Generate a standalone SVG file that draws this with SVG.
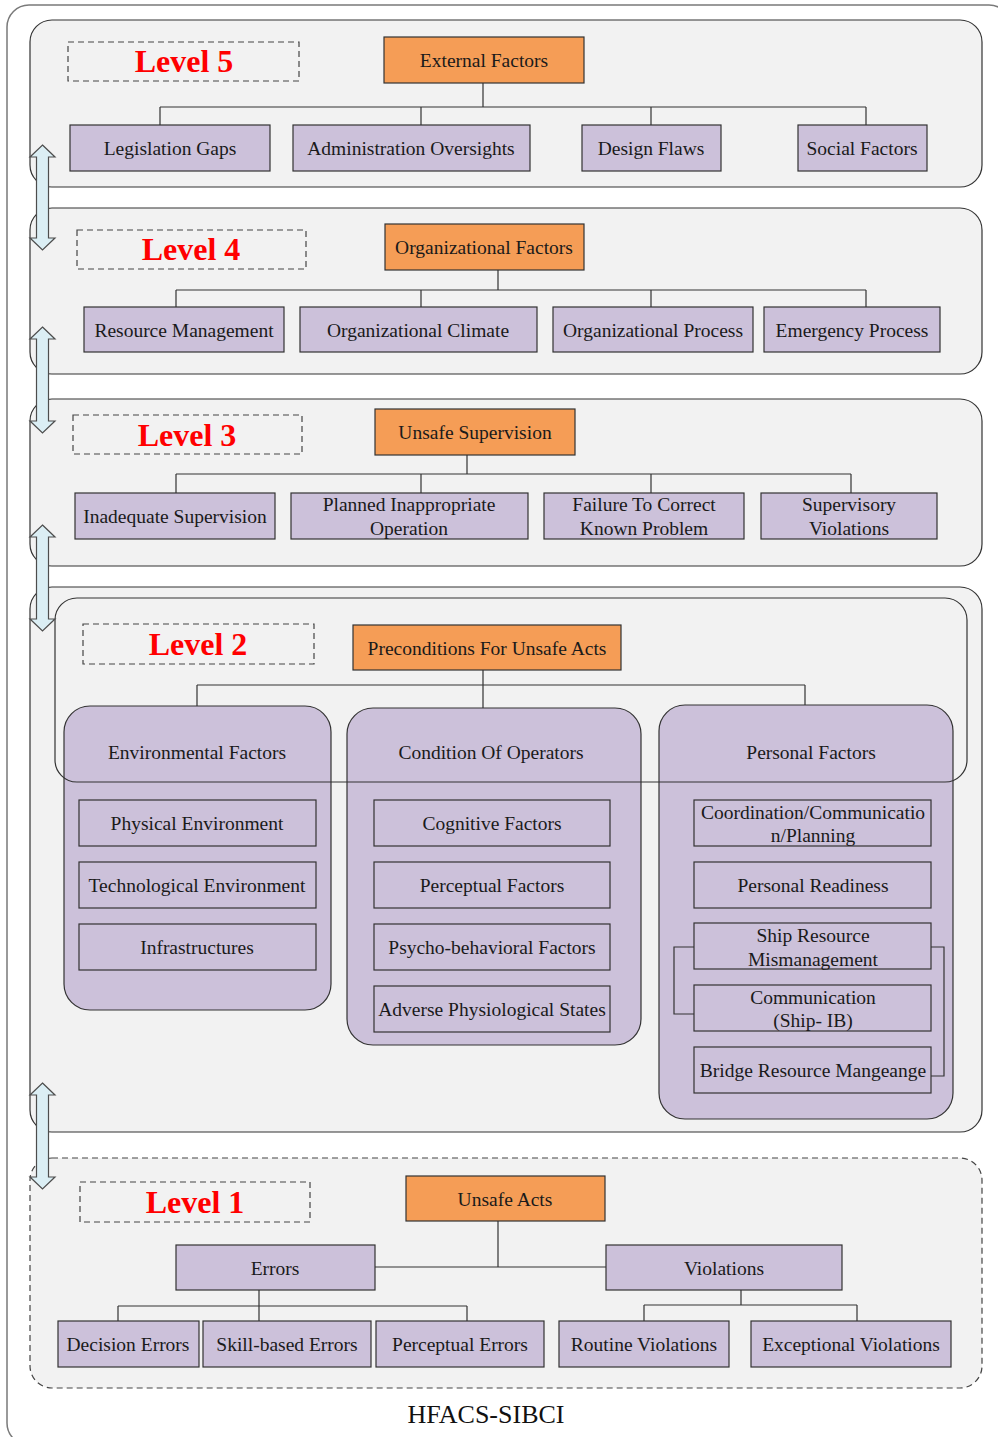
<svg xmlns="http://www.w3.org/2000/svg" width="998" height="1437" viewBox="0 0 998 1437">
  <style>
    .frame { fill: #ffffff; stroke: #7a7a7a; stroke-width: 1.5; }
    .panel { fill: #f2f2f2; stroke: #333333; stroke-width: 1.2; }
    .panel-dash { fill: #f2f2f2; stroke: #444444; stroke-width: 1.2; stroke-dasharray: 6 4; }
    .outline { fill: none; stroke: #333333; stroke-width: 1.2; }
    .lvlbox { fill: none; stroke: #444444; stroke-width: 1.2; stroke-dasharray: 6 4; }
    .lvl { font-family: "Liberation Serif", "Times New Roman", serif; font-weight: bold; font-size: 32px; fill: #ff0000; text-anchor: middle; }
    .top { fill: #f59d56; stroke: #333333; stroke-width: 1.2; }
    .sub { fill: #ccc1da; stroke: #333333; stroke-width: 1.2; }
    .grp { fill: #ccc1da; stroke: #333333; stroke-width: 1.2; }
    .t { font-family: "Liberation Serif", "Times New Roman", serif; font-size: 19.5px; fill: #1a1a1a; text-anchor: middle; }
    .cap { font-family: "Liberation Serif", "Times New Roman", serif; font-size: 26px; fill: #111111; text-anchor: middle; }
    .conn { fill: none; stroke: #333333; stroke-width: 1.2; }
    .arrow { fill: #dbeef4; stroke: #4d4d4d; stroke-width: 1.2; }
  </style>

  <!-- outer frame -->
  <rect class="frame" x="7" y="5" width="1004" height="1440" rx="22"/>

  <!-- level panels -->
  <g id="panel-level5"><rect class="panel" x="30" y="20" width="952" height="167" rx="22"/></g>
  <g id="panel-level4"><rect class="panel" x="30" y="208" width="952" height="166" rx="22"/></g>
  <g id="panel-level3"><rect class="panel" x="30" y="399" width="952" height="167" rx="22"/></g>
  <g id="panel-level2"><rect class="panel" x="30" y="587" width="952" height="545" rx="22"/></g>
  <g id="panel-level1"><rect class="panel-dash" x="30" y="1158" width="952" height="230" rx="22"/></g>

  <!-- level labels -->
  <g id="label-level5"><rect class="lvlbox" x="68" y="42" width="231" height="39"/><text class="lvl" x="184" y="72">Level 5</text></g>
  <g id="label-level4"><rect class="lvlbox" x="77" y="230" width="229" height="39"/><text class="lvl" x="191" y="260">Level 4</text></g>
  <g id="label-level3"><rect class="lvlbox" x="73" y="415" width="229" height="39"/><text class="lvl" x="187" y="446">Level 3</text></g>
  <g id="label-level2"><rect class="lvlbox" x="83" y="624" width="231" height="40"/><text class="lvl" x="198" y="655">Level 2</text></g>
  <g id="label-level1"><rect class="lvlbox" x="80" y="1182" width="230" height="40"/><text class="lvl" x="195" y="1213">Level 1</text></g>

  <!-- connectors -->
  <g id="connectors">
    <!-- level 5 -->
    <path class="conn" d="M483,83 V107 M160,107 H866 M160,107 V125 M421,107 V125 M651,107 V125 M866,107 V125"/>
    <!-- level 4 -->
    <path class="conn" d="M498,270 V290 M176,290 H866 M176,290 V307 M421,290 V307 M651,290 V307 M866,290 V307"/>
    <!-- level 3 -->
    <path class="conn" d="M467,455 V474 M176,474 H851 M176,474 V493 M421,474 V493 M651,474 V493 M851,474 V493"/>
    <!-- level 2 -->
    <path class="conn" d="M483,670 V708 M197,685 H805 M197,685 V706 M805,685 V705"/>
    <!-- level 1 -->
    <path class="conn" d="M498,1221 V1267 M375,1267 H606"/>
    <path class="conn" d="M259,1290 V1321 M118,1306 H467 M118,1306 V1321 M467,1306 V1321"/>
    <path class="conn" d="M741,1290 V1305 M644,1305 H857 M644,1305 V1321 M857,1305 V1321"/>
  </g>

  <!-- level 5 nodes -->
  <g id="external-factors"><rect class="top" x="384" y="37" width="200" height="46"/><text class="t" x="484" y="66.5">External Factors</text></g>
  <g id="legislation-gaps"><rect class="sub" x="70" y="125" width="200" height="46"/><text class="t" x="170" y="154.5">Legislation Gaps</text></g>
  <g id="administration-oversights"><rect class="sub" x="293" y="125" width="237" height="46"/><text class="t" x="411" y="154.5">Administration Oversights</text></g>
  <g id="design-flaws"><rect class="sub" x="582" y="125" width="139" height="46"/><text class="t" x="651" y="154.5">Design Flaws</text></g>
  <g id="social-factors"><rect class="sub" x="798" y="125" width="129" height="46"/><text class="t" x="862" y="154.5">Social Factors</text></g>

  <!-- level 4 nodes -->
  <g id="organizational-factors"><rect class="top" x="385" y="224" width="199" height="46"/><text class="t" x="484" y="253.5">Organizational Factors</text></g>
  <g id="resource-management"><rect class="sub" x="84" y="307" width="200" height="45"/><text class="t" x="184" y="336.5">Resource Management</text></g>
  <g id="organizational-climate"><rect class="sub" x="300" y="307" width="237" height="45"/><text class="t" x="418" y="336.5">Organizational Climate</text></g>
  <g id="organizational-process"><rect class="sub" x="553" y="307" width="200" height="45"/><text class="t" x="653" y="336.5">Organizational Process</text></g>
  <g id="emergency-process"><rect class="sub" x="764" y="307" width="176" height="45"/><text class="t" x="852" y="336.5">Emergency Process</text></g>

  <!-- level 3 nodes -->
  <g id="unsafe-supervision"><rect class="top" x="375" y="409" width="200" height="46"/><text class="t" x="475" y="438.5">Unsafe Supervision</text></g>
  <g id="inadequate-supervision"><rect class="sub" x="75" y="493" width="200" height="46"/><text class="t" x="175" y="522.5">Inadequate Supervision</text></g>
  <g id="planned-inappropriate-operation"><rect class="sub" x="291" y="493" width="237" height="46"/><text class="t" x="409" y="510.5">Planned Inappropriate</text><text class="t" x="409" y="534.5">Operation</text></g>
  <g id="failure-to-correct"><rect class="sub" x="544" y="493" width="200" height="46"/><text class="t" x="644" y="510.5">Failure To Correct</text><text class="t" x="644" y="534.5">Known Problem</text></g>
  <g id="supervisory-violations"><rect class="sub" x="761" y="493" width="176" height="46"/><text class="t" x="849" y="510.5">Supervisory</text><text class="t" x="849" y="534.5">Violations</text></g>

  <!-- level 2 nodes -->
  <g id="preconditions"><rect class="top" x="353" y="625" width="268" height="45"/><text class="t" x="487" y="654.5">Preconditions For Unsafe Acts</text></g>

  <g id="environmental-factors">
    <rect class="grp" x="64" y="706" width="267" height="304" rx="26"/>
    <text class="t" x="197" y="758.5">Environmental Factors</text>
    <rect class="sub" x="79" y="800" width="237" height="46"/><text class="t" x="197" y="829.5">Physical Environment</text>
    <rect class="sub" x="79" y="862" width="237" height="46"/><text class="t" x="197" y="891.5">Technological Environment</text>
    <rect class="sub" x="79" y="924" width="237" height="46"/><text class="t" x="197" y="953.5">Infrastructures</text>
  </g>

  <g id="condition-of-operators">
    <rect class="grp" x="347" y="708" width="294" height="337" rx="26"/>
    <text class="t" x="491" y="758.5">Condition Of Operators</text>
    <rect class="sub" x="374" y="800" width="236" height="46"/><text class="t" x="492" y="829.5">Cognitive Factors</text>
    <rect class="sub" x="374" y="862" width="236" height="46"/><text class="t" x="492" y="891.5">Perceptual Factors</text>
    <rect class="sub" x="374" y="924" width="236" height="46"/><text class="t" x="492" y="953.5">Psycho-behavioral Factors</text>
    <rect class="sub" x="374" y="986" width="236" height="46"/><text class="t" x="492" y="1015.5">Adverse Physiological States</text>
  </g>

  <g id="personal-factors">
    <rect class="grp" x="659" y="705" width="294" height="414" rx="26"/>
    <text class="t" x="811" y="758.5">Personal Factors</text>
    <!-- side brackets linking the resource-management items -->
    <path class="conn" d="M694,947 H674 V1014 H694"/>
    <path class="conn" d="M931,947 H944 V1076 H931"/>
    <rect class="sub" x="694" y="800" width="237" height="46"/><text class="t" x="813" y="818.5">Coordination/Communicatio</text><text class="t" x="813" y="841.5">n/Planning</text>
    <rect class="sub" x="694" y="862" width="237" height="46"/><text class="t" x="813" y="891.5">Personal Readiness</text>
    <rect class="sub" x="694" y="923" width="237" height="46"/><text class="t" x="813" y="941.5">Ship Resource</text><text class="t" x="813" y="965.5">Mismanagement</text>
    <rect class="sub" x="694" y="985" width="237" height="46"/><text class="t" x="813" y="1003.5">Communication</text><text class="t" x="813" y="1026.5">(Ship- IB)</text>
    <rect class="sub" x="694" y="1047" width="237" height="46"/><text class="t" x="813" y="1076.5">Bridge Resource Mangeange</text>
  </g>

  <!-- inner level 2 frame, stroked over the groups -->
  <rect class="outline" x="55" y="598" width="912" height="184" rx="22"/>

  <!-- level 1 nodes -->
  <g id="unsafe-acts"><rect class="top" x="406" y="1176" width="199" height="45"/><text class="t" x="505" y="1205.5">Unsafe Acts</text></g>
  <g id="errors"><rect class="sub" x="176" y="1245" width="199" height="45"/><text class="t" x="275" y="1274.5">Errors</text></g>
  <g id="violations"><rect class="sub" x="606" y="1245" width="236" height="45"/><text class="t" x="724" y="1274.5">Violations</text></g>
  <g id="decision-errors"><rect class="sub" x="58" y="1321" width="141" height="46"/><text class="t" x="128" y="1350.5">Decision Errors</text></g>
  <g id="skill-based-errors"><rect class="sub" x="203" y="1321" width="168" height="46"/><text class="t" x="287" y="1350.5">Skill-based Errors</text></g>
  <g id="perceptual-errors"><rect class="sub" x="376" y="1321" width="168" height="46"/><text class="t" x="460" y="1350.5">Perceptual Errors</text></g>
  <g id="routine-violations"><rect class="sub" x="559" y="1321" width="170" height="46"/><text class="t" x="644" y="1350.5">Routine Violations</text></g>
  <g id="exceptional-violations"><rect class="sub" x="751" y="1321" width="200" height="46"/><text class="t" x="851" y="1350.5">Exceptional Violations</text></g>

  <!-- double arrows between levels -->
  <g id="arrow-5-4"><path class="arrow" d="M42.5,145 L55,157 L48.5,157 L48.5,238 L55,238 L42.5,250 L30,238 L36.5,238 L36.5,157 L30,157 Z"/></g>
  <g id="arrow-4-3"><path class="arrow" d="M42.5,327 L55,339 L48.5,339 L48.5,421 L55,421 L42.5,433 L30,421 L36.5,421 L36.5,339 L30,339 Z"/></g>
  <g id="arrow-3-2"><path class="arrow" d="M42.5,525 L55,537 L48.5,537 L48.5,619 L55,619 L42.5,631 L30,619 L36.5,619 L36.5,537 L30,537 Z"/></g>
  <g id="arrow-2-1"><path class="arrow" d="M42.5,1083 L55,1095 L48.5,1095 L48.5,1177 L55,1177 L42.5,1189 L30,1177 L36.5,1177 L36.5,1095 L30,1095 Z"/></g>

  <text class="cap" x="486" y="1423">HFACS-SIBCI</text>
</svg>
